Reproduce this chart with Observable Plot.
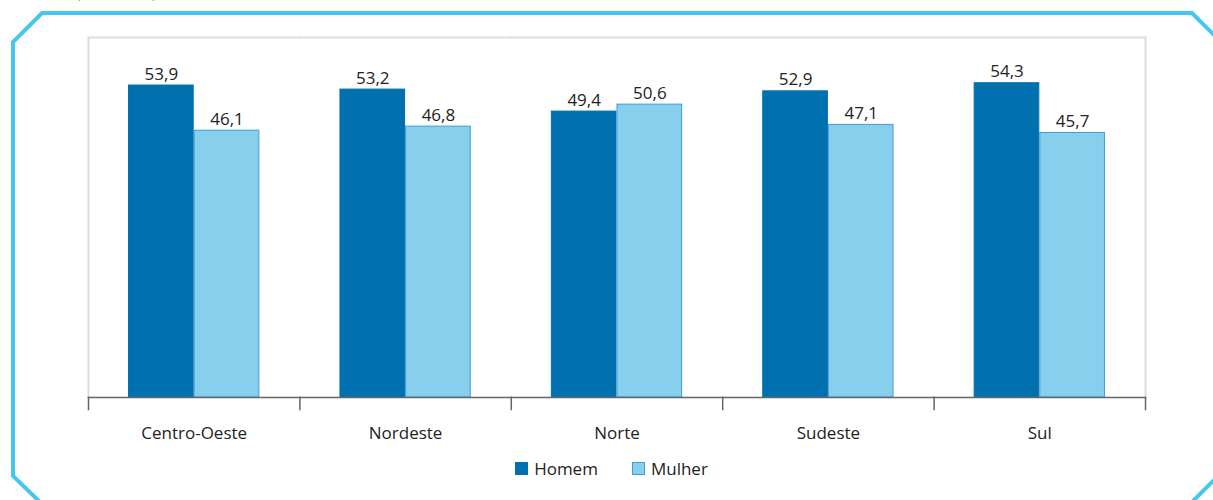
<!DOCTYPE html>
<html>
<head>
<meta charset="utf-8">
<script src="https://cdn.jsdelivr.net/npm/d3@7"></script>
<script src="https://cdn.jsdelivr.net/npm/@observablehq/plot@0.6"></script>
<style>
  html, body { margin: 0; padding: 0; background: #fff; }
  body { width: 1213px; height: 500px; position: relative; overflow: hidden; font-family: "Open Sans", sans-serif; }
  #deco { position: absolute; left: 0; top: 0; pointer-events: none; }
  #unit { position: absolute; left: 76px; top: -19px; font-size: 16px; color: #333; letter-spacing: 6px; }
  #chart { position: absolute; left: 0; top: 0; }
  #legend { position: absolute; top: 457px; left: 0; width: 1213px; display: flex; justify-content: center; gap: 34px; font-size: 17px; color: #222; padding-left: 10px; box-sizing: border-box; }
  #legend .item { display: flex; align-items: center; gap: 6px; }
  #legend .sw { width: 13px; height: 13px; box-sizing: border-box; }
</style>
</head>
<body>
<div id="unit">(em %)</div>
<svg id="deco" width="1213" height="500">
  <polyline points="13,476 13,42 42,13 1192,13 1215,36" fill="none" stroke="#44C8F3" stroke-width="4"/>
  <polyline points="13,474 13,476 40,502" fill="none" stroke="#44C8F3" stroke-width="4"/>
  <polyline points="1215,479 1193,501" fill="none" stroke="#44C8F3" stroke-width="4"/>
</svg>
<div id="chart"></div>
<div id="legend"></div>
<script>
const regions = ["Centro-Oeste", "Nordeste", "Norte", "Sudeste", "Sul"];
const sexes = ["Homem", "Mulher"];
const homem = [53.9, 53.2, 49.4, 52.9, 54.3];
const mulher = [46.1, 46.8, 50.6, 47.1, 45.7];
const colors = ["#0071AE", "#88CEED"];
const strokes = ["#0071AE", "#3E9FD6"];

const data = regions.flatMap((r, i) => [
  {region: r, sex: sexes[0], value: homem[i]},
  {region: r, sex: sexes[1], value: mulher[i]}
]);
const fmt = v => v.toFixed(1).replace(".", ",");

const chart = Plot.plot({
  width: 1213,
  height: 450,
  marginTop: 37,
  marginBottom: 53,
  marginLeft: 88,
  marginRight: 68,
  style: {fontFamily: "'Open Sans', sans-serif", fontSize: "17px", color: "#222", background: "transparent"},
  fx: {domain: regions, padding: 0, round: false, label: null, axis: "bottom", tickSize: 0, tickPadding: 29},
  x: {domain: sexes, paddingInner: 0, paddingOuter: 0.61, round: false, axis: null},
  y: {domain: [0, 62.2], axis: null},
  color: {domain: sexes, range: colors},
  marks: [
    Plot.frame({anchor: "top", stroke: "#dddddd", strokeWidth: 2}),
    Plot.frame({anchor: "left", stroke: "#dddddd", strokeWidth: 2, facetAnchor: "left"}),
    Plot.frame({anchor: "right", stroke: "#dddddd", strokeWidth: 2, facetAnchor: "right"}),
    Plot.barY(data, {fx: "region", x: "sex", y: "value", fill: "sex", stroke: d => strokes[sexes.indexOf(d.sex)], strokeWidth: 1, insetLeft: 0.5, insetRight: 0.5}),
    Plot.text(data, {fx: "region", x: "sex", y: "value", text: d => fmt(d.value), lineAnchor: "bottom", dy: -6, fill: "#222", fontSize: 17}),
    Plot.frame({anchor: "bottom", stroke: "#666", strokeWidth: 1.5}),
    Plot.frame({anchor: "left", stroke: "#666", strokeWidth: 1.5, insetTop: 360, insetBottom: -12}),
    Plot.frame({anchor: "right", stroke: "#666", strokeWidth: 1.5, insetTop: 360, insetBottom: -12, facetAnchor: "right"})
  ]
});
document.getElementById("chart").appendChild(chart);

const legend = document.getElementById("legend");
sexes.forEach((s, i) => {
  const item = document.createElement("div");
  item.className = "item";
  const sw = document.createElement("div");
  sw.className = "sw";
  sw.style.background = colors[i];
  sw.style.border = "1px solid " + strokes[i];
  const label = document.createElement("span");
  label.textContent = s;
  item.appendChild(sw);
  item.appendChild(label);
  legend.appendChild(item);
});
</script>
</body>
</html>
